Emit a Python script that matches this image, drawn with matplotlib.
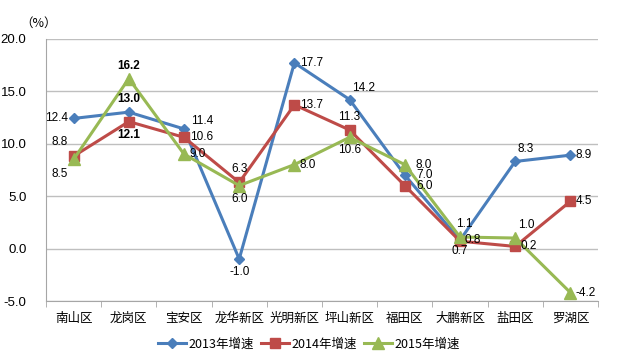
import matplotlib
matplotlib.use("Agg")
import matplotlib.pyplot as plt

plt.rcParams['font.family'] = ['Noto Sans CJK SC', 'DejaVu Sans']

categories = ["南山区", "龙岗区", "宝安区", "龙华新区", "光明新区", "坪山新区", "福田区", "大鹏新区", "盐田区", "罗湖区"]
growth_2013 = [12.4, 13.0, 11.4, -1.0, 17.7, 14.2, 7.0, 0.8, 8.3, 8.9]
growth_2014 = [8.8, 12.1, 10.6, 6.3, 13.7, 11.3, 6.0, 0.7, 0.2, 4.5]
growth_2015 = [8.5, 16.2, 9.0, 6.0, 8.0, 10.6, 8.0, 1.1, 1.0, -4.2]
series_names = ["2013年增速", "2014年增速", "2015年增速"]
yticks = [-5.0, 0.0, 5.0, 10.0, 15.0, 20.0]

colors = ["#4A7EBB", "#BE4B48", "#98B954"]
markers = ["D", "s", "^"]
msizes = [5.5, 7, 8]

# label positions (offset in points)
L, R, U, D = (-4, 0, 'right', 'center'), (4, 0, 'left', 'center'), (0, 5, 'center', 'bottom'), (0, -5, 'center', 'top')
R8 = (8, 0, 'left', 'center')
pos_2013 = [L, U, (5, 6, 'left', 'center'), D, R, (2, 4, 'left', 'bottom'), R8, (3, 0, 'left', 'center'), (2, 5, 'left', 'bottom'), R]
pos_2014 = [(-4, 6, 'right', 'bottom'), D, R, U, R, U, R8, (0, -3, 'center', 'top'), R, R]
pos_2015 = [(-4, -6, 'right', 'top'), U, R, D, R, D, R8, (3, 5, 'center', 'bottom'), (2, 5, 'left', 'bottom'), R]
bold_idx = {1}
num_font = 'Liberation Sans'

fig = plt.figure(figsize=(6.18, 3.61), dpi=100)
ax = fig.add_axes([46/618, 1 - 301/361, (598 - 46)/618, (301 - 38.7)/361])

x = list(range(len(categories)))
lines = []
for vals, c, m, ms, name, pos in zip([growth_2013, growth_2014, growth_2015], colors, markers, msizes, series_names,
                                      [pos_2013, pos_2014, pos_2015]):
    ln, = ax.plot(x, vals, color=c, marker=m, markersize=ms, linewidth=2.2, label=name, zorder=3)
    lines.append(ln)
    for i, v in enumerate(vals):
        dx, dy, ha, va = pos[i]
        ax.annotate(f"{v:.1f}", (i, v), xytext=(dx, dy), textcoords='offset points', ha=ha, va=va,
                    fontsize=8.5, fontweight='bold' if i in bold_idx else 'normal', family=num_font,
                    color='black', zorder=4)

ax.set_xlim(-0.5, len(categories) - 0.5)
ax.set_ylim(-5, 20)
ax.set_yticks(yticks)
ax.set_yticklabels([f"{t:.1f}" for t in yticks], fontsize=9.5, family=num_font)
ax.tick_params(axis='y', length=0, pad=14)
ax.set_xticks(x)
ax.set_xticklabels(categories, fontsize=9)
ax.set_xticks([i + 0.5 for i in range(-1, len(categories))], minor=True)
ax.tick_params(axis='x', which='major', length=0, pad=8)
ax.tick_params(axis='x', which='minor', length=4, color='#A6A6A6')
ax.grid(axis='y', color='#BFBFBF', linewidth=1)
ax.set_axisbelow(True)
for s in ['top', 'right']:
    ax.spines[s].set_visible(False)
for s in ['left', 'bottom']:
    ax.spines[s].set_color('#A6A6A6')

fig.text(20/618, 1 - 23/361, "（%）", fontsize=9, ha='left', va='center')

fig.legend(handles=lines, loc='center', bbox_to_anchor=(0.5, 1 - 344/361), ncol=3, frameon=False,
           fontsize=9, handlelength=2.2, columnspacing=0.6, handletextpad=0.2)

fig.savefig("out.png", dpi=100)
